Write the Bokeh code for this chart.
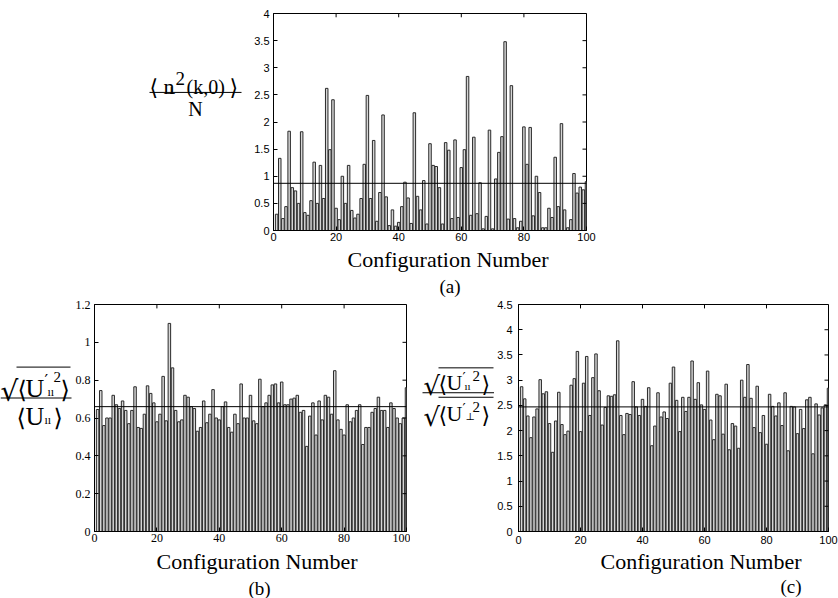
from bokeh.plotting import figure
from bokeh.models import Range1d, FixedTicker, Span, Title, CustomJSTickFormatter
from bokeh.core.properties import value
from bokeh.layouts import column, row
from bokeh.embed import file_html
from bokeh.resources import INLINE

config_number = list(range(1, 101))

n_perp_sq = [0.30, 1.33, 0.22, 0.44, 1.83, 0.79, 0.73, 0.50, 1.82, 0.33,
             0.28, 0.55, 1.26, 0.50, 1.20, 0.59, 2.62, 1.49, 2.41, 0.41,
             0.20, 1.00, 0.50, 1.20, 0.37, 0.23, 0.30, 0.59, 1.22, 2.49,
             0.59, 1.66, 0.17, 0.70, 2.13, 0.62, 0.09, 0.38, 0.08, 0.15,
             0.44, 0.89, 0.60, 0.13, 2.17, 0.63, 0.38, 0.92, 0.12, 1.60,
             1.20, 1.18, 0.79, 0.12, 1.62, 1.48, 0.22, 1.67, 0.24, 1.16,
             1.49, 2.84, 0.28, 1.72, 0.31, 0.88, 0.03, 0.26, 1.85, 0.03,
             0.95, 1.44, 1.73, 3.48, 0.21, 2.67, 0.22, 0.05, 0.17, 1.91,
             1.22, 1.90, 0.27, 1.00, 0.70, 0.05, 0.05, 0.41, 0.24, 1.35,
             0.44, 1.97, 0.38, 0.05, 0.20, 1.05, 0.69, 0.80, 0.75, 0.90]

u_par_ratio = [0.645, 0.745, 0.56, 0.60, 0.60, 0.72, 0.67, 0.65, 0.69, 0.64,
               0.57, 0.64, 0.765, 0.55, 0.545, 0.62, 0.77, 0.73, 0.68, 0.58,
               0.62, 0.82, 0.585, 1.10, 0.865, 0.64, 0.58, 0.59, 0.72, 0.71,
               0.66, 0.65, 0.53, 0.55, 0.69, 0.575, 0.62, 0.75, 0.60, 0.59,
               0.66, 0.685, 0.55, 0.525, 0.62, 0.57, 0.78, 0.60, 0.60, 0.72,
               0.585, 0.57, 0.805, 0.66, 0.68, 0.72, 0.775, 0.78, 0.68, 0.79,
               0.67, 0.67, 0.70, 0.705, 0.72, 0.63, 0.64, 0.45, 0.61, 0.68,
               0.51, 0.69, 0.59, 0.72, 0.71, 0.62, 0.85, 0.59, 0.54, 0.51,
               0.67, 0.58, 0.60, 0.64, 0.67, 0.46, 0.55, 0.55, 0.63, 0.65,
               0.71, 0.64, 0.64, 0.55, 0.68, 0.65, 0.60, 0.57, 0.60, 0.76]

u_par_perp_ratio = [2.87, 2.63, 2.29, 1.86, 2.27, 2.43, 3.01, 2.73, 2.77, 2.14,
                    1.57, 2.19, 2.76, 2.12, 1.92, 1.99, 2.90, 3.03, 3.57, 1.98,
                    2.94, 3.47, 2.30, 3.05, 3.52, 2.79, 2.11, 2.46, 2.69, 2.68,
                    2.71, 3.78, 2.30, 1.92, 2.34, 2.32, 2.97, 2.47, 2.30, 2.62,
                    2.48, 2.85, 1.70, 2.09, 2.75, 2.27, 2.37, 2.24, 2.94, 3.26,
                    2.60, 1.98, 2.66, 2.38, 2.66, 3.38, 2.62, 2.95, 2.51, 2.42,
                    3.18, 2.21, 1.82, 2.72, 2.69, 1.93, 2.92, 1.62, 2.14, 2.09,
                    1.65, 3.00, 2.66, 3.31, 2.64, 2.06, 2.88, 1.96, 2.30, 1.73,
                    2.72, 2.48, 2.29, 2.55, 2.10, 2.75, 1.60, 2.48, 2.47, 1.94,
                    2.42, 2.04, 2.61, 2.66, 1.54, 2.53, 2.31, 2.45, 2.51, 2.84]

mean_a = 0.87
mean_b = 0.66
mean_c = 2.47

x_ticks = [0, 20, 40, 60, 80, 100]
y_ticks_a = [0, 0.5, 1, 1.5, 2, 2.5, 3, 3.5, 4]
y_ticks_b = [0, 0.2, 0.4, 0.6, 0.8, 1, 1.2]
y_ticks_c = [0, 0.5, 1, 1.5, 2, 2.5, 3, 3.5, 4, 4.5]

x_label = "Configuration Number"
panel_tags = ["(a)", "(b)", "(c)"]

SERIF = "Liberation Serif"
SANS = "Liberation Sans"
SYM = "DejaVu Serif"
PAR = "\u0131\u0131"   # small double stroke used as the 'parallel' subscript

FMT = CustomJSTickFormatter(code="return String(Math.round(tick * 10) / 10);")


def panel(width, height, left, right, top, bottom, ymax, yticks, values, mean,
          tick_font, tick_size, xstand, ystand, lab_off, tag, tag_off, lab_stand, tag_stand):
    p = figure(width=width, height=height, x_range=Range1d(0, 100), y_range=Range1d(0, ymax),
               output_backend="svg", toolbar_location=None,
               min_border_left=left, min_border_right=right,
               min_border_top=top, min_border_bottom=bottom,
               background_fill_color="white", border_fill_color="white")
    p.grid.visible = False
    p.outline_line_color = "black"
    p.outline_line_width = 1
    p.vbar(x=config_number, top=values, bottom=0, width=0.8,
           fill_color="#d6d6d6", line_color="#2a2a2a", line_width=1)
    p.add_layout(Span(location=mean, dimension="width", line_color="black", line_width=1))
    for ax, ticks in ((p.xaxis[0], x_ticks), (p.yaxis[0], yticks)):
        ax.ticker = FixedTicker(ticks=ticks)
        ax.formatter = FMT
        ax.major_tick_in = 4
        ax.major_tick_out = 0
        ax.minor_tick_line_color = None
        ax.major_label_text_font = tick_font
        ax.major_label_text_font_size = tick_size
        ax.major_label_text_color = "black"
        ax.axis_line_color = "black"
    p.xaxis[0].major_label_standoff = xstand
    p.yaxis[0].major_label_standoff = ystand
    # mirrored inward ticks on the top and right edges of the box
    fw = width - left - right
    fh = height - top - bottom
    dy = 4.0 / fh * ymax
    dx = 4.0 / fw * 100
    p.segment(x0=x_ticks, x1=x_ticks, y0=[ymax] * len(x_ticks), y1=[ymax - dy] * len(x_ticks),
              line_color="black", line_width=1)
    p.segment(x0=[100] * len(yticks), x1=[100 - dx] * len(yticks), y0=yticks, y1=yticks,
              line_color="black", line_width=1)
    p.add_layout(Title(text=x_label, align="left", offset=lab_off, standoff=lab_stand,
                       text_font=SERIF, text_font_size="22px", text_font_style="normal",
                       text_color="black"), "below")
    p.add_layout(Title(text=tag, align="left", offset=tag_off, standoff=tag_stand,
                       text_font=SERIF, text_font_size="19px", text_font_style="normal",
                       text_color="black"), "below")
    return p


def label_fig(width, height, ox, oy):
    q = figure(width=width, height=height, x_range=Range1d(ox, ox + width),
               y_range=Range1d(oy + height, oy), output_backend="svg", toolbar_location=None,
               min_border=0, background_fill_color="white", border_fill_color="white")
    q.axis.visible = False
    q.grid.visible = False
    q.outline_line_color = None
    return q


def t(q, x, y, s, size, font=SERIF, align="left"):
    q.text(x=[x], y=[y], text=[s], text_font=value(font), text_font_size=f"{size}px",
           text_align=align, text_baseline="alphabetic", text_color="black")


def hline(q, x0, x1, y):
    q.segment(x0=[x0], x1=[x1], y0=[y], y1=[y], line_color="black", line_width=1)


# ---------------- panel (a)
pa = panel(593, 297, 28, 252, 13, 55, 4, y_ticks_a, n_perp_sq, mean_a, SANS, "11px", 2, 4,
           74, panel_tags[0], 166, 3, 1)
la = label_fig(245, 297, 0, 0)
t(la, 149, 101, "\u27e8", 22, SYM)
t(la, 163, 100, "n", 22)
t(la, 166, 106, "\u22a5", 10, SYM)
t(la, 175, 89, "2", 19)
t(la, 186, 100, "(k,0)", 20)
t(la, 229, 101, "\u27e9", 22, SYM)
hline(la, 149, 241, 108)
t(la, 195, 131, "N", 20, align="center")

# ---------------- panel (b)
pb = panel(338, 301, 22, 4, 4, 65, 1.2, y_ticks_b, u_par_ratio, mean_b, SERIF, "12px", 2, 4,
           62, panel_tags[1], 154, 4, 0)
lb = label_fig(72, 301, 0, 297)
t(lb, 0, 413, "\u221a", 28, SYM)
hline(lb, 16, 70, 380)
t(lb, 17, 410, "\u27e8", 24, SYM)
t(lb, 25, 409, "U", 26)
t(lb, 44, 398, "\u2032", 16, SYM)
t(lb, 47, 413, PAR, 12)
t(lb, 53, 393, "2", 15)
t(lb, 60, 410, "\u27e9", 24, SYM)
hline(lb, 0, 71, 421)
t(lb, 16, 447, "\u27e8", 24, SYM)
t(lb, 25, 446, "U", 26)
t(lb, 44, 450, PAR, 12)
t(lb, 53, 447, "\u27e9", 24, SYM)

# ---------------- panel (c)
pc = panel(344, 301, 24, 10, 7, 62, 4.5, y_ticks_c, u_par_perp_ratio, mean_c, SANS, "11px", 4, 6,
           82, panel_tags[2], 262, 0, 0)
lc = label_fig(84, 301, 410, 297)
t(lc, 423, 405, "\u221a", 26, SYM)
hline(lc, 438, 493, 381)
t(lc, 438, 403, "\u27e8", 22, SYM)
t(lc, 446, 401, "U", 22)
t(lc, 462, 394, "\u2032", 14, SYM)
t(lc, 464, 405, PAR, 11)
t(lc, 472, 392, "2", 15)
t(lc, 481, 403, "\u27e9", 22, SYM)
hline(lc, 422, 494, 414)
t(lc, 423, 446, "\u221a", 26, SYM)
hline(lc, 438, 493, 420)
t(lc, 438, 444, "\u27e8", 22, SYM)
t(lc, 446, 442, "U", 22)
t(lc, 462, 435, "\u2032", 14, SYM)
t(lc, 465, 446, "\u22a5", 10, SYM)
t(lc, 472, 433, "2", 15)
t(lc, 481, 444, "\u27e9", 22, SYM)

layout = column(row(la, pa, spacing=0), row(lb, pb, lc, pc, spacing=0), spacing=0)
open("out.html", "w").write(file_html(layout, INLINE))
